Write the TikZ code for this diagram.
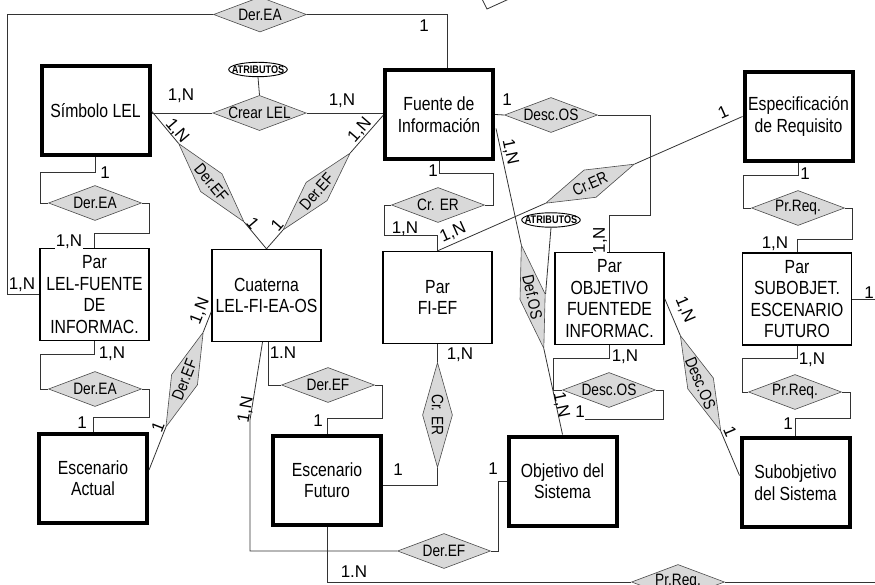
\documentclass[tikz,border=0pt]{standalone}
\usepackage{fontspec}
\setmainfont{Liberation Sans}[FakeStretch=0.83]
\newfontfamily\cardfont{Liberation Sans}
\usetikzlibrary{shapes.geometric,calc}

\begin{document}
\begin{tikzpicture}[x=1pt,y=-1pt,line width=.8pt,draw=black!80,
  ent/.style={draw=black,line width=4pt,inner sep=2pt,minimum width=108pt,minimum height=89pt,align=center,font=\fontsize{19}{21.5}\selectfont},
  agr/.style={draw=black,line width=1.3pt,inner sep=2pt,minimum width=109pt,minimum height=92pt,align=center,font=\fontsize{19}{21.5}\selectfont},
  rel/.style={diamond,draw=black!70,fill=gray!30,line width=.6pt,inner sep=0pt,shape aspect=2.66,minimum width=93pt,minimum height=35pt,font=\fontsize{16.5}{18}\selectfont},
  rrel/.style={rel,shape aspect=3.6,minimum width=102pt,minimum height=28pt},
  atr/.style={ellipse,draw=black,line width=.9pt,inner xsep=-5.5pt,inner ysep=1.2pt,font=\bfseries\fontsize{11}{12}\selectfont},
  card/.style={inner sep=.5pt,font=\cardfont\fontsize{17}{17}\selectfont},
  cw/.style={card,fill=white}]
\useasboundingbox (0,0) rectangle (875,585);
% entidades
\node[ent] (simbolo) at (95.5,111) {Símbolo LEL};
\node[ent] (fuente) at (439,114.5) {Fuente de\\Información};
\node[ent] (espec) at (798.5,116.5) {Especificación\\de Requisito};
\node[ent] (escact) at (93,478) {Escenario\\Actual};
\node[ent] (escfut) at (327,480) {Escenario\\Futuro};
\node[ent] (objsis) at (562.5,481) {Objetivo del\\Sistema};
\node[ent] (subobj) at (795.5,482.5) {Subobjetivo\\del Sistema};
% agregaciones
\node[agr] (parlel) at (94.5,294.5) {Par\\LEL-FUENTE\\DE\\INFORMAC.};
\node[agr] (cuaterna) at (266.5,295.5) {Cuaterna\\LEL-FI-EA-OS};
\node[agr] (parfief) at (437.5,297.5) {Par\\FI-EF};
\node[agr] (parobj) at (609.5,298.5) {Par\\OBJETIVO\\FUENTEDE\\INFORMAC.};
\node[agr] (parsub) at (797,299) {Par\\SUBOBJET.\\ESCENARIO\\FUTURO};
% relaciones
\node[rel] (dea1) at (260,14.5) {Der.EA};
\node[rel] (crear) at (259.5,113) {Crear LEL};
\node[atr] (atr1) at (258,69.5) {ATRIBUTOS};
\node[rel] (dea2) at (95,203) {Der.EA};
\node[rel] (dea3) at (95,389) {Der.EA};
\node[rel] (crer1) at (438,205) {Cr. ER};
\node[rel] (desc1) at (551,115) {Desc.OS};
\node[rel] (prq1) at (798,208) {Pr.Req.};
\node[rel] (def2) at (328,385) {Der.EF};
\node[rel] (desc2) at (609,390) {Desc.OS};
\node[rel] (prq2) at (795,392) {Pr.Req.};
\node[rel] (def3) at (444,551) {Der.EF};
\node[rel] (prq3) at (678,582) {Pr.Req.};
\node[rrel,rotate=-90,minimum width=105pt,minimum height=30pt] (crer2) at (437.5,415) {Cr. ER};
\node[atr] (atr2) at (551,220) {ATRIBUTOS};
% relaciones inclinadas
\path (simbolo.east) -- node[rrel,sloped,pos=.52] (def1a) {Der.EF} (cuaterna.north);
\path (cuaterna.north) -- node[rrel,sloped,pos=.43] (def1b) {Der.EF} ($(fuente.west)+(0,1)$);
\path ($(escact.east)+(0,-8)$) -- node[rrel,sloped,pos=.57] (def1c) {Der.EF} ($(cuaterna.west)+(0,16)$);
\path (parfief.north) -- node[rrel,sloped,pos=.5,minimum width=97pt,minimum height=30pt] (crer3) {Cr.ER} (espec.west);
\path ($(fuente.east)+(1,14)$) -- node[rrel,sloped,pos=.55,minimum width=106pt,minimum height=26pt] (defos) {Def.OS} (objsis.north);
\path (parobj.east) -- node[rrel,sloped,pos=.48,minimum width=104pt] (desc3) {Desc.OS} ($(subobj.west)+(0,-7)$);
\coordinate (fin) at (585,419);
% conexiones
\draw (dea1.west) -| (7,294.5) -- (parlel.west);
\draw (dea1.east) -| ($(fuente.north)+(8,0)$);
\draw (crear.west) -- (simbolo.east |- crear.west) (crear.east) -- (fuente.west |- crear.east);
\draw (atr1.south) -- (crear.north);
\draw (simbolo.south) -- ++(0,15) -| (40,203) -- (dea2.west);
\draw (dea2.east) -| (149,233) -| (parlel.north);
\draw (parlel.south) -- ++(0,13) -| (40,389) -- (dea3.west);
\draw (dea3.east) -| (149,417) -| (escact.north);
\draw (simbolo.east) -- (def1a.west) (def1a.east) -- (cuaterna.north);
\draw (cuaterna.north) -- (def1b.west) (def1b.east) -- ($(fuente.west)+(0,1)$);
\draw ($(escact.east)+(0,-8)$) -- (def1c.west) (def1c.east) -- ($(cuaterna.west)+(0,16)$);
\draw ($(cuaterna.south)+(1.5,0)$) |- (def2.west);
\draw (def2.east) -| (382,418) -| (escfut.north);
\draw ($(cuaterna.south)+(-4,0)$) -- (250,420) |- (def3.west);
\draw (def3.east) -| (498,481) -- (objsis.west);
\draw (fuente.south) -- ++(0,12) -| (493,205) -- (crer1.east);
\draw (crer1.west) -| (384,235) -| (parfief.north);
\draw (parfief.north) -- (crer3.west) (crer3.east) -- (espec.west);
\draw (parfief.south) -- (crer2.west) (crer2.east) |- ($(escfut.east)+(0,5)$);
\draw (fuente.east) -- (desc1.west);
\draw (desc1.east) -| (650,215) -| (parobj.north);
\draw ($(fuente.east)+(1,14)$) -- (defos.west) (defos.east) -- (objsis.north);
\draw (atr2.south) -- (defos.north);
\draw (parobj.south) -- ++(0,13) -| (553,390) -- (desc2.west);
\draw (desc2.east) -| (663,419) -- (fin);
\draw (parobj.east) -- (desc3.west) (desc3.east) -- ($(subobj.west)+(0,-7)$);
\draw (espec.south) -- ++(0,12) -| (743,208) -- (prq1.west);
\draw (prq1.east) -| (852,239) -| (parsub.north);
\draw (parsub.south) -- ++(0,13) -| (742,392) -- (prq2.west);
\draw (prq2.east) -| (850,418) -| (subobj.north);
\draw (escfut.south) |- (prq3.west) (prq3.east) -| (890,299) -- (parsub.east);
\draw (482,-1) -- (487,9) -- (509,-1);
% cardinalidades
\node[card] (l1) at (424,26) {1};
\node[card] (l2) at (181,96) {1,N};
\node[card] (l3) at (342,101) {1,N};
\node[card] (l4) at (507,100) {1};
\node[card] (l5) at (433,171) {1};
\node[card] (l6) at (405,229) {1,N};
\node[card] (l7) at (805,174) {1};
\node[card] (l8) at (775,244) {1,N};
\node[card] (l9) at (105,173) {1};
\node[cw] (l10) at (69,242) {1,N};
\node[card] (l11) at (22,285) {1,N};
\node[card] (l12) at (112,354) {1,N};
\node[card] (l13) at (82,423) {1};
\node[card] (l14) at (283,353) {1.N};
\node[card] (l15) at (318,421) {1};
\node[card] (l16) at (460,355) {1,N};
\node[card] (l17) at (398,470) {1};
\node[card] (l18) at (493,469) {1};
\node[cw] (l19) at (354,572) {1.N};
\node[card] (l20) at (625,357) {1,N};
\node[card] (l21) at (580,412) {1};
\node[card] (l22) at (812,360) {1,N};
\node[card] (l23) at (788,424) {1};
\node[card] (l24) at (869,293) {1};
\node[card,rotate=-49.6] (l25) at (177,131) {1,N};
\node[card,rotate=49] (l26) at (360,130) {1,N};
\node[card,rotate=-49.6] (l27) at (253,223) {1};
\node[card,rotate=49] (l28) at (277,225) {1};
\node[card,rotate=68.6] (l29) at (200,311) {1,N};
\node[card,rotate=68.6] (l30) at (158,427) {1};
\node[card,rotate=24] (l31) at (453,233) {1,N};
\node[card,rotate=24] (l32) at (723,112) {1};
\node[card,rotate=-78] (l33) at (510,152) {1,N};
\node[card,rotate=-78] (l34) at (561,405) {1,N};
\node[card,rotate=-67] (l35) at (685,310) {1,N};
\node[card,rotate=-67] (l36) at (730,432) {1};
\node[card,rotate=80] (l37) at (246,410) {1,N};
\node[cw,rotate=90] (l38) at (600,240) {1,N};
\end{tikzpicture}
\end{document}
